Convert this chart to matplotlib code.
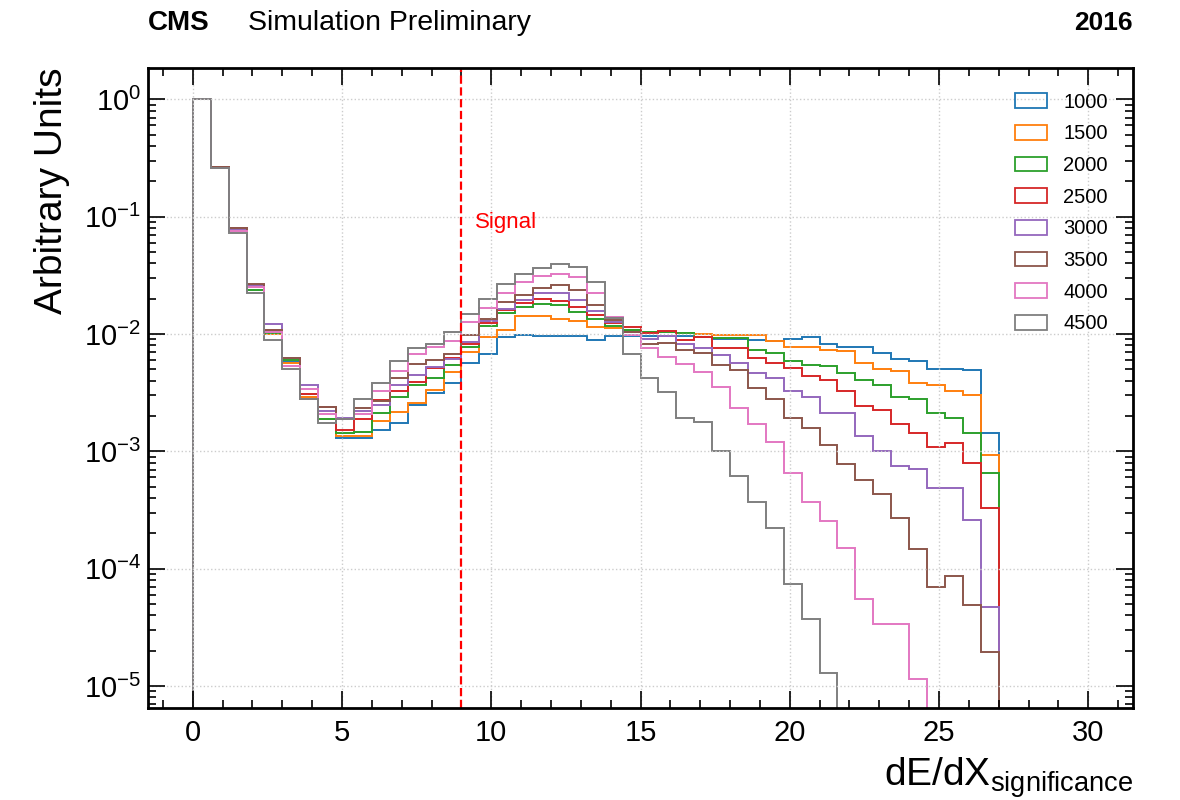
import numpy as np
import matplotlib
matplotlib.use("Agg")
import matplotlib.pyplot as plt
from matplotlib.patches import Patch
from matplotlib.ticker import MultipleLocator, LogLocator

plt.rcParams['font.family'] = ['Liberation Sans', 'DejaVu Sans']
plt.rcParams['mathtext.fontset'] = 'custom'
plt.rcParams['mathtext.rm'] = 'Liberation Sans'

# binning: 45 bins of width 0.6 between 0 and 27
bin_edges = np.linspace(0, 27, 46)

masses = ["1000", "1500", "2000", "2500", "3000", "3500", "4000", "4500"]
colors = ['#1f77b4', '#ff7f0e', '#2ca02c', '#d62728', '#9467bd', '#8c564b', '#e377c2', '#7f7f7f']

# normalised dE/dX significance
h1000 = [1.0, 0.262, 0.078, 0.025, 0.0105, 0.0058, 0.0029, 0.0019, 0.00131, 0.0013,
         0.00152, 0.00173, 0.00246, 0.00315, 0.0038, 0.0057, 0.0068, 0.0095, 0.0099, 0.0096,
         0.0096, 0.0096, 0.0089, 0.0096, 0.0096, 0.0096, 0.0097, 0.0097, 0.00935, 0.00905,
         0.00905, 0.00887, 0.00876, 0.0090, 0.00935, 0.00815, 0.00768, 0.00768, 0.00692, 0.00615,
         0.00591, 0.00505, 0.00505, 0.00492, 0.00144]
h1500 = [1.0, 0.262, 0.078, 0.025, 0.0100, 0.0057, 0.0029, 0.0019, 0.00135, 0.00134,
         0.00182, 0.00217, 0.00256, 0.00335, 0.00476, 0.0070, 0.0094, 0.0109, 0.0142, 0.0142,
         0.0133, 0.0130, 0.0114, 0.0112, 0.0109, 0.01038, 0.01038, 0.01024, 0.00998, 0.00985,
         0.00985, 0.0099, 0.00864, 0.00778, 0.00778, 0.00738, 0.0072, 0.00561, 0.00505, 0.00486,
         0.00384, 0.00369, 0.00328, 0.00301, 0.000928]
h2000 = [1.0, 0.262, 0.078, 0.0237, 0.0103, 0.0060, 0.0031, 0.0019, 0.00142, 0.00145,
         0.00213, 0.00290, 0.00370, 0.00420, 0.0054, 0.0077, 0.0117, 0.0150, 0.0171, 0.0182,
         0.0176, 0.0155, 0.0134, 0.0118, 0.0108, 0.01038, 0.01038, 0.01011, 0.00947, 0.00917,
         0.00917, 0.00729, 0.00683, 0.00591, 0.00543, 0.00532, 0.00467, 0.00404, 0.00367, 0.00292,
         0.00277, 0.00213, 0.00191, 0.00142, 0.000656]
h2500 = [1.0, 0.263, 0.080, 0.026, 0.0109, 0.0062, 0.0031, 0.0024, 0.00153, 0.00187,
         0.00273, 0.00330, 0.00390, 0.0051, 0.0063, 0.0082, 0.0125, 0.0160, 0.0185, 0.0197,
         0.0192, 0.0171, 0.0145, 0.0123, 0.0115, 0.01024, 0.01052, 0.00887, 0.00947, 0.00753,
         0.00753, 0.00619, 0.00561, 0.00509, 0.00438, 0.00404, 0.00328, 0.00243, 0.00224, 0.00171,
         0.00142, 0.00108, 0.00117, 0.000798, 0.000326]
h3000 = [1.0, 0.262, 0.079, 0.0255, 0.0121, 0.0063, 0.0037, 0.0022, 0.00194, 0.00221,
         0.00248, 0.00370, 0.00449, 0.0052, 0.0061, 0.0085, 0.0128, 0.0165, 0.0195, 0.0222,
         0.0222, 0.0195, 0.0158, 0.0127, 0.0104, 0.00899, 0.0096, 0.0082, 0.00753, 0.00661,
         0.00561, 0.00467, 0.00418, 0.00328, 0.00292, 0.00213, 0.00213, 0.00135, 0.00101, 0.000748,
         0.000714, 0.000483, 0.000483, 0.000259, 0.0000473]
h3500 = [1.0, 0.263, 0.080, 0.0266, 0.0109, 0.0063, 0.0028, 0.0024, 0.0019, 0.00236,
         0.0027, 0.0042, 0.0056, 0.0060, 0.0067, 0.0098, 0.0135, 0.0188, 0.0215, 0.0245,
         0.0263, 0.0237, 0.0176, 0.0132, 0.0105, 0.0082, 0.00831, 0.00738, 0.00683, 0.00543,
         0.00492, 0.0035, 0.00282, 0.00191, 0.00157, 0.00113, 0.000788, 0.000568, 0.000432, 0.000273,
         0.000146, 0.00007, 0.0000863, 0.0000488, 0.0000195]
h4000 = [1.0, 0.262, 0.076, 0.0252, 0.0105, 0.0053, 0.0034, 0.0021, 0.0019, 0.0021,
         0.00326, 0.0048, 0.0068, 0.0077, 0.0087, 0.0127, 0.0166, 0.0222, 0.0279, 0.0312,
         0.0324, 0.0308, 0.0222, 0.0140, 0.0098, 0.00753, 0.0064, 0.00554, 0.00476, 0.00355,
         0.00232, 0.00171, 0.00121, 0.000656, 0.000371, 0.000254, 0.000149, 0.0000557, 0.0000336, 0.0000336,
         0.0000114, 0.0, 0.0, 0.0, 0.0]
h4500 = [1.0, 0.262, 0.073, 0.0225, 0.0089, 0.0050, 0.0028, 0.00175, 0.00187, 0.00282,
         0.00386, 0.0059, 0.0076, 0.0083, 0.0105, 0.0148, 0.0197, 0.0265, 0.0324, 0.0365,
         0.0394, 0.0370, 0.0279, 0.0136, 0.0068, 0.00426, 0.00322, 0.00191, 0.00179, 0.00101,
         0.000615, 0.000369, 0.000223, 0.0000747, 0.0000376, 0.0000128, 0.0, 0.0, 0.0, 0.0,
         0.0, 0.0, 0.0, 0.0, 0.0]

signal_cut = 9.0

hists = [h1000, h1500, h2000, h2500, h3000, h3500, h4000, h4500]

fig = plt.figure(figsize=(11.8, 8), dpi=100)
ax = fig.add_axes([148/1180, 92/800, 985/1180, 640/800])

for vals, c in zip(hists, colors):
    ax.stairs(np.array(vals), bin_edges, baseline=0, fill=False, color=c, lw=1.4)

ax.axvline(signal_cut, color='red', ls='--', lw=1.6)
ax.text(signal_cut + 0.45, 0.09, "Signal", color='red', fontsize=16, va='center', ha='left')

ax.set_yscale('log')
ax.set_xlim(-1.5, 31.5)
ax.set_ylim(6.5e-6, 1.85)

ax.xaxis.set_major_locator(MultipleLocator(5))
ax.xaxis.set_minor_locator(MultipleLocator(1))
ax.yaxis.set_major_locator(LogLocator(base=10, numticks=20))
ax.yaxis.set_minor_locator(LogLocator(base=10, subs=np.arange(2, 10), numticks=20))
ax.tick_params(which='both', direction='in', top=True, right=True, width=1.2)
ax.tick_params(which='major', length=12, labelsize=21)
ax.tick_params(axis='x', which='major', pad=8)
ax.tick_params(axis='y', which='major', pad=5)
ax.tick_params(which='minor', length=6)
for sp in ax.spines.values():
    sp.set_linewidth(2)

ax.grid(True, which='major', color='#cccccc', ls=':', lw=1)

ax.set_xlabel(r"dE/dX$_{\mathdefault{significance}}$", fontsize=28, loc='right', labelpad=6)
ax.set_ylabel("Arbitrary Units", fontsize=28, loc='top', labelpad=10)

handles = [Patch(facecolor='none', edgecolor=c, lw=1.3) for c in colors]
ax.legend(handles, masses, loc='upper right', frameon=False, fontsize=14.5,
          handlelength=1.6, handleheight=0.75, labelspacing=0.63,
          bbox_to_anchor=(0.993, 0.99))

ax.text(0.0, 1.06, "CMS", transform=ax.transAxes, fontsize=20, fontweight='bold',
        ha='left', va='baseline')
ax.text(0.1015, 1.06, "Simulation Preliminary", transform=ax.transAxes, fontsize=20.5,
        ha='left', va='baseline')
ax.text(1.0, 1.06, "2016", transform=ax.transAxes, fontsize=19, fontweight='bold',
        ha='right', va='baseline')

fig.savefig("out.png", dpi=100)
